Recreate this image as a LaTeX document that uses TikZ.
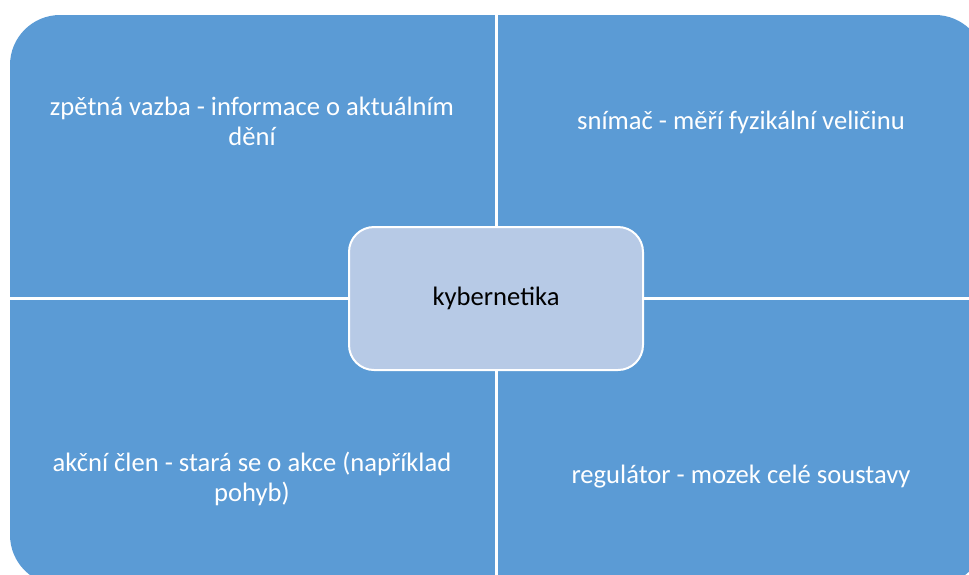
\documentclass[tikz,border=0pt]{standalone}
\usepackage{fontspec}
\setmainfont{Carlito}
\usetikzlibrary{positioning}
\definecolor{quadblue}{RGB}{91,155,213}
\definecolor{hubblue}{RGB}{183,202,230}
\tikzset{
  quadtext/.style = {text=white, align=center, inner sep=0pt,
                     font=\fontsize{26.6}{30}\selectfont},
  hubnode/.style = {rectangle, rounded corners=25pt, fill=hubblue, draw=white,
                    line width=2pt, minimum width=294pt, minimum height=143pt,
                    font=\fontsize{26.6}{30}\selectfont}
}

\begin{document}
\begin{tikzpicture}[x=1pt, y=-1pt]
\useasboundingbox (0,0) rectangle (969,574);

% background of the four fields
\begin{scope}
  \clip (0,0) rectangle (969,574);
  \fill[quadblue, rounded corners=50pt] (10,15) rectangle (985,585);
  \draw[white, line width=3pt] (496,0) -- (496,600);
  \draw[white, line width=3pt] (0,298.3) -- (1000,298.3);
\end{scope}

% middle
\node[hubnode] (hub) at (496,298.5) {kybernetika};

% fields
\node[quadtext] (zpetna) at (252,121) {zpětná vazba - informace o aktuálním\\dění};
\node[quadtext] (snimac) at (741,122) {snímač - měří fyzikální veličinu};
\node[quadtext] (akcni) at (252,479) {akční člen - stará se o akce (například\\pohyb)};
\node[quadtext] (regulator) at (741,477) {regulátor - mozek celé soustavy};
\end{tikzpicture}
\end{document}
